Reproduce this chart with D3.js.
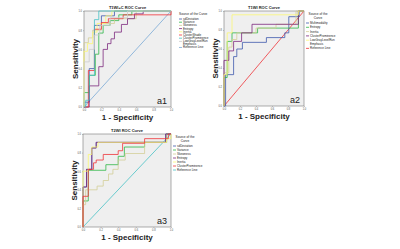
<!DOCTYPE html>
<html>
<head>
<meta charset="utf-8">
<script src="https://cdn.jsdelivr.net/npm/d3@7"></script>
<style>
  body { margin: 0; background: #fff; }
  text { font-family: "Liberation Sans", Arial, sans-serif; }
</style>
</head>
<body>
<div id="container"></div>
<script>
/* DATA */
const tickValues = [0, 0.2, 0.4, 0.6, 0.8, 1.0];

// T1WI+C
const a1Series = ["sdDeviation", "Variance", "Skewness", "Entropy", "Inertia",
  "ClusterShade", "ClusterProminence", "LowGrayLevelRun Emphasis"];
const a1Curves = [
  [[0,0],[0,0.05],[0.06,0.05],[0.06,0.4],[0.12,0.4],[0.12,0.85],[0.2,0.85],[0.2,0.95],[0.35,0.95],[0.35,1],[1,1]],
  [[0,0],[0,0.15],[0.06,0.15],[0.06,0.33],[0.13,0.33],[0.13,0.55],[0.17,0.55],[0.17,0.77],[0.22,0.77],[0.22,0.85],[0.3,0.85],[0.3,0.9],[0.4,0.9],[0.4,0.96],[0.55,0.96],[0.55,1],[1,1]],
  [[0,0],[0,0.67],[0.05,0.67],[0.05,0.72],[0.1,0.72],[0.1,0.8],[0.2,0.8],[0.2,0.87],[0.35,0.87],[0.35,0.92],[0.6,0.92],[0.6,1],[1,1]],
  [[0,0],[0.06,0],[0.06,0.22],[0.17,0.22],[0.17,0.42],[0.22,0.42],[0.22,0.6],[0.27,0.6],[0.27,0.66],[0.31,0.66],[0.31,0.71],[0.35,0.71],[0.35,0.78],[0.43,0.78],[0.43,0.86],[0.5,0.86],[0.5,0.92],[0.58,0.92],[0.58,0.97],[0.68,0.97],[0.68,1],[1,1]],
  [[0,0],[0,0.58],[0.04,0.58],[0.04,0.66],[0.1,0.66],[0.1,0.78],[0.15,0.78],[0.15,0.87],[0.25,0.87],[0.25,0.95],[0.32,0.95],[0.32,1],[1,1]],
  [[0,0],[0.05,0],[0.05,0.38],[0.12,0.38],[0.12,0.81],[0.2,0.81],[0.2,0.88],[0.28,0.88],[0.28,0.92],[0.45,0.92],[0.45,0.96],[1,0.96],[1,1]],
  [[0,0],[0.02,0],[0.02,0.07],[0.06,0.07],[0.06,0.33],[0.12,0.33],[0.12,0.91],[0.17,0.91],[0.17,1],[1,1]],
  [[0,0],[0,0.47],[0.06,0.47],[0.06,0.6],[0.12,0.6],[0.12,0.75],[0.18,0.75],[0.18,0.85],[0.3,0.85],[0.3,0.93],[0.5,0.93],[0.5,1],[1,1]]
];

// T1WI
const a2Series = ["Multimodality", "Entropy", "Inertia", "ClusterProminence", "LowGrayLevelRun Emphasis"];
const a2Curves = [
  [[0,0],[0.02,0],[0.02,0.33],[0.12,0.33],[0.12,0.52],[0.16,0.52],[0.16,0.6],[0.23,0.6],[0.23,0.67],[0.53,0.67],[0.53,0.72],[0.76,0.72],[0.76,0.77],[0.81,0.77],[0.81,0.94],[0.94,0.94],[0.94,1],[1,1]],
  [[0,0],[0,0.3],[0.04,0.3],[0.04,0.68],[0.1,0.68],[0.1,0.77],[0.42,0.77],[0.42,0.82],[0.93,0.82],[0.93,1],[1,1]],
  [[0,0],[0,0.35],[0.06,0.35],[0.06,0.62],[0.1,0.62],[0.1,0.7],[0.16,0.7],[0.16,0.77],[0.4,0.77],[0.4,0.82],[0.65,0.82],[0.65,0.86],[0.9,0.86],[0.9,1],[1,1]],
  [[0,0],[0,0.48],[0.06,0.48],[0.06,0.58],[0.12,0.58],[0.12,0.68],[0.22,0.68],[0.22,0.77],[0.35,0.77],[0.35,0.86],[0.93,0.86],[0.93,1],[1,1]],
  [[0,0],[0,0.33],[0.04,0.33],[0.04,0.77],[0.1,0.77],[0.1,0.96],[0.93,0.96],[0.93,1],[1,1]]
];

// T2WI
const a3Series = ["sdDeviation", "Variance", "Skewness", "Entropy", "Inertia", "ClusterProminence"];
const a3Curves = [
  [[0,0],[0,0.43],[0.04,0.43],[0.04,0.62],[0.1,0.62],[0.1,0.85],[0.15,0.85],[0.15,0.91],[0.94,0.91],[0.94,1],[1,1]],
  [[0,0],[0,0.28],[0.06,0.28],[0.06,0.61],[0.26,0.61],[0.26,0.67],[0.4,0.67],[0.4,0.76],[0.47,0.76],[0.47,0.86],[0.7,0.86],[0.7,0.91],[0.95,0.91],[0.95,1],[1,1]],
  [[0,0],[0,0.24],[0.03,0.24],[0.03,0.4],[0.16,0.4],[0.16,0.44],[0.23,0.44],[0.23,0.5],[0.29,0.5],[0.29,0.57],[0.34,0.57],[0.34,0.62],[0.4,0.62],[0.4,0.72],[0.48,0.72],[0.48,0.79],[0.7,0.79],[0.7,0.91],[0.95,0.91],[0.95,1],[1,1]],
  [[0,0],[0,0.43],[0.04,0.43],[0.04,0.62],[0.1,0.62],[0.1,0.85],[0.15,0.85],[0.15,0.91],[0.94,0.91],[0.94,1],[1,1]],
  [[0,0],[0,0.6],[0.06,0.6],[0.06,0.78],[0.1,0.78],[0.1,0.86],[0.17,0.86],[0.17,0.91],[0.95,0.91],[0.95,0.95],[1,0.95],[1,1]],
  [[0,0],[0,0.33],[0.06,0.33],[0.06,0.62],[0.12,0.62],[0.12,0.69],[0.15,0.69],[0.15,0.72],[0.23,0.72],[0.23,0.78],[0.4,0.78],[0.4,0.82],[0.45,0.82],[0.45,0.9],[0.7,0.9],[0.7,0.95],[0.97,0.95],[0.97,1],[1,1]]
];

/* STYLE */
const palette = ["#3E58AC", "#2EB848", "#D3CE97", "#7C287D", "#FBF873",
  "#EF3338", "#48C2C5", "#CCCCCC", "#7AAAD5"];

const panels = [
  { title: "T1WI+C  ROC Curve", tag: "a1", series: a1Series, curves: a1Curves,
    x0: 84, x1: 171, y0: 11, y1: 107, lx: 179, ly: 15, oneLineTitle: true, step: 3.2 },
  { title: "T1WI  ROC Curve", tag: "a2", series: a2Series, curves: a2Curves,
    x0: 224, x1: 304, y0: 11, y1: 106, lx: 306, ly: 15, oneLineTitle: false, step: 4.3 },
  { title: "T2WI  ROC Curve", tag: "a3", series: a3Series, curves: a3Curves,
    x0: 83, x1: 171, y0: 134, y1: 227, lx: 173, ly: 138, oneLineTitle: false, step: 4.0 }
];

const svg = d3.select("#container")
  .append("svg")
  .attr("width", 400)
  .attr("height", 249);

panels.forEach(p => {
  const x = d3.scaleLinear().domain([0, 1]).range([p.x0, p.x1]);
  const y = d3.scaleLinear().domain([0, 1]).range([p.y1, p.y0]);
  const g = svg.append("g");

  // plot background
  g.append("rect")
    .attr("x", p.x0).attr("y", p.y0)
    .attr("width", p.x1 - p.x0).attr("height", p.y1 - p.y0)
    .attr("fill", "#efefef")
    .attr("stroke", "#777")
    .attr("stroke-width", 0.6);

  // axes
  const xAxis = d3.axisBottom(x).tickValues(tickValues).tickFormat(d3.format(".1f")).tickSize(1).tickPadding(1);
  g.append("g")
    .attr("transform", `translate(0,${p.y1})`)
    .call(xAxis)
    .call(a => a.select(".domain").remove())
    .call(a => a.selectAll("line").attr("stroke", "#777").attr("stroke-width", 0.4))
    .call(a => a.selectAll("text").attr("font-size", 2.6).attr("fill", "#555"));

  const yAxis = d3.axisLeft(y).tickValues(tickValues).tickFormat(d3.format(".1f")).tickSize(1).tickPadding(1);
  g.append("g")
    .attr("transform", `translate(${p.x0},0)`)
    .call(yAxis)
    .call(a => a.select(".domain").remove())
    .call(a => a.selectAll("line").attr("stroke", "#777").attr("stroke-width", 0.4))
    .call(a => a.selectAll("text").attr("font-size", 2.6).attr("fill", "#555"));

  const line = d3.line().x(d => x(d[0])).y(d => y(d[1]));

  // reference line
  const refColor = palette[p.series.length];
  g.append("path")
    .attr("d", line([[0, 0], [1, 1]]))
    .attr("fill", "none")
    .attr("stroke", refColor)
    .attr("stroke-width", 0.8);

  // curves
  g.selectAll(".curve")
    .data(p.curves)
    .join("path")
    .attr("class", "curve")
    .attr("d", line)
    .attr("fill", "none")
    .attr("stroke", (d, i) => palette[i])
    .attr("stroke-width", 0.8);

  // title
  g.append("text")
    .attr("x", (p.x0 + p.x1) / 2)
    .attr("y", p.y0 - 2)
    .attr("text-anchor", "middle")
    .attr("font-size", 4)
    .attr("font-weight", "bold")
    .attr("fill", "#222")
    .text(p.title);

  // axis labels
  g.append("text")
    .attr("x", (p.x0 + p.x1) / 2)
    .attr("y", p.y1 + 13)
    .attr("text-anchor", "middle")
    .attr("font-size", 8)
    .attr("font-weight", "bold")
    .attr("fill", "#222")
    .text("1 - Specificity");

  g.append("text")
    .attr("transform", `translate(${p.x0 - 6},${(p.y0 + p.y1) / 2}) rotate(-90)`)
    .attr("text-anchor", "middle")
    .attr("font-size", 8)
    .attr("font-weight", "bold")
    .attr("fill", "#222")
    .text("Sensitivity");

  // panel tag
  g.append("text")
    .attr("x", p.x1 - 4)
    .attr("y", p.y1 - 3)
    .attr("text-anchor", "end")
    .attr("font-size", 9)
    .attr("fill", "#222")
    .text(p.tag);

  // legend
  const leg = g.append("g").attr("transform", `translate(${p.lx},${p.ly})`);
  let ty = 0;
  if (p.oneLineTitle) {
    leg.append("text").attr("x", 0).attr("y", 0).attr("font-size", 3.2).attr("fill", "#222")
      .text("Source of the Curve");
    ty = 5;
  } else {
    leg.append("text").attr("x", 12).attr("y", 0).attr("text-anchor", "middle").attr("font-size", 3.2).attr("fill", "#222")
      .text("Source of the");
    leg.append("text").attr("x", 12).attr("y", 3.6).attr("text-anchor", "middle").attr("font-size", 3.2).attr("fill", "#222")
      .text("Curve");
    ty = 9;
  }
  const names = p.series.concat(["Reference Line"]);
  names.forEach((name, i) => {
    leg.append("line")
      .attr("x1", 0).attr("x2", 3)
      .attr("y1", ty - 1).attr("y2", ty - 1)
      .attr("stroke", palette[i]).attr("stroke-width", 0.8);
    const parts = name.split(" ");
    const t = leg.append("text").attr("x", 4).attr("y", ty).attr("font-size", 3).attr("fill", "#222");
    if (name.startsWith("LowGray")) {
      t.text(parts[0]);
      leg.append("text").attr("x", 4).attr("y", ty + p.step * 0.9).attr("font-size", 3).attr("fill", "#222").text(parts[1]);
      ty += p.step * 1.9;
    } else {
      t.text(name);
      ty += p.step;
    }
  });
});
</script>
</body>
</html>
